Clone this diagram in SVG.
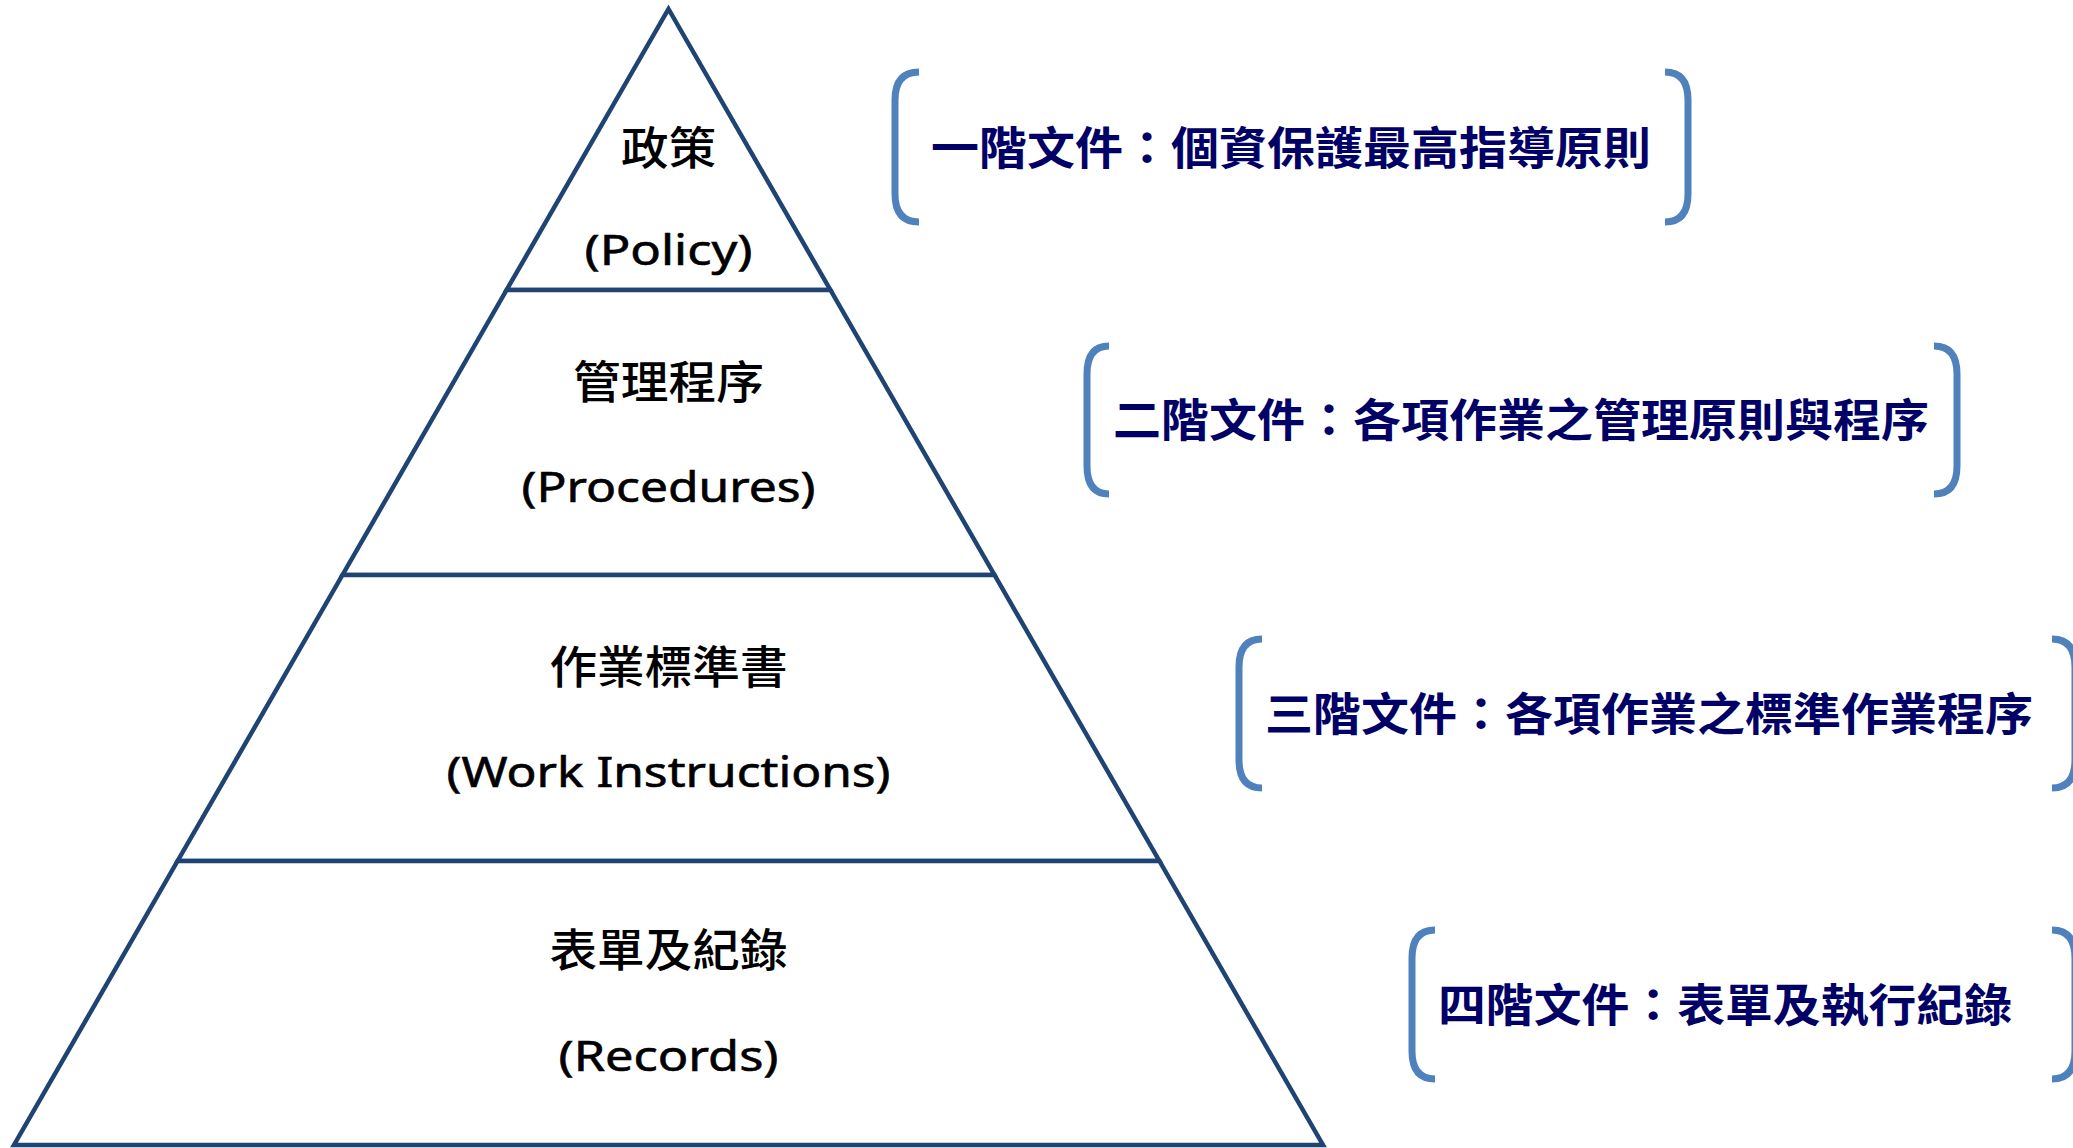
<svg xmlns="http://www.w3.org/2000/svg" width="2073" height="1148" viewBox="0 0 2073 1148">
<style>
.tier{fill:#FFFFFF;stroke:#1F4473;stroke-width:4.5;stroke-linejoin:miter}
.zh{font-family:"Noto Sans CJK TC","Noto Sans CJK SC",sans-serif;font-size:45px;font-weight:500;fill:#000000;text-anchor:middle}
.en{font-family:"Noto Sans","Open Sans","Liberation Sans",sans-serif;font-size:42px;fill:#000000;stroke:#000000;stroke-width:0.6;text-anchor:middle}
.lbl{font-family:"Noto Sans CJK TC","Noto Sans CJK SC",sans-serif;font-size:45px;font-weight:700;fill:#000066}
.br{fill:none;stroke:#4F81BD;stroke-width:7;stroke-linecap:butt}
</style>
<rect width="2073" height="1148" fill="#FFFFFF"/>
<g id="tier1">
<polygon class="tier" points="668.5,9 830.4,290 506.6,290"/>
<text class="zh" x="668.5" y="165" textLength="95" lengthAdjust="spacingAndGlyphs">政策</text>
<text class="en" x="668.5" y="265" textLength="168" lengthAdjust="spacingAndGlyphs">(Policy)</text>
</g>
<g id="tier2">
<polygon class="tier" points="506.6,290 830.4,290 994.5,575 342.5,575"/>
<text class="zh" x="668.5" y="399" textLength="191" lengthAdjust="spacingAndGlyphs">管理程序</text>
<text class="en" x="668.5" y="502" textLength="294" lengthAdjust="spacingAndGlyphs">(Procedures)</text>
</g>
<g id="tier3">
<polygon class="tier" points="342.5,575 994.5,575 1159.4,861 177.6,861"/>
<text class="zh" x="668.5" y="684" textLength="238" lengthAdjust="spacingAndGlyphs">作業標準書</text>
<text class="en" x="668.5" y="787" textLength="444" lengthAdjust="spacingAndGlyphs">(Work Instructions)</text>
</g>
<g id="tier4">
<polygon class="tier" points="177.6,861 1159.4,861 1323,1145 14,1145"/>
<text class="zh" x="668.5" y="967" textLength="238" lengthAdjust="spacingAndGlyphs">表單及紀錄</text>
<text class="en" x="668.5" y="1071" textLength="220" lengthAdjust="spacingAndGlyphs">(Records)</text>
</g>
<g id="label1">
<path class="br" d="M919,72 Q895,72 895,100 L895,194 Q895,222 919,222"/>
<path class="br" d="M1665,72 Q1688,72 1688,100 L1688,194 Q1688,222 1665,222"/>
<text class="lbl" x="931" y="165" textLength="720" lengthAdjust="spacingAndGlyphs">一階文件：個資保護最高指導原則</text>
</g>
<g id="label2">
<path class="br" d="M1109,346 Q1087,346 1087,374 L1087,466 Q1087,494 1109,494"/>
<path class="br" d="M1934,346 Q1957,346 1957,374 L1957,466 Q1957,494 1934,494"/>
<text class="lbl" x="1113" y="437" textLength="816" lengthAdjust="spacingAndGlyphs">二階文件：各項作業之管理原則與程序</text>
</g>
<g id="label3">
<path class="br" d="M1262,639 Q1239,639 1239,667 L1239,760 Q1239,788 1262,788"/>
<path class="br" d="M2052,639 Q2075,639 2075,667 L2075,760 Q2075,788 2052,788"/>
<text class="lbl" x="1265" y="731" textLength="768" lengthAdjust="spacingAndGlyphs">三階文件：各項作業之標準作業程序</text>
</g>
<g id="label4">
<path class="br" d="M1435,930 Q1412,930 1412,958 L1412,1051 Q1412,1079 1435,1079"/>
<path class="br" d="M2052,930 Q2075,930 2075,958 L2075,1051 Q2075,1079 2052,1079"/>
<text class="lbl" x="1438" y="1022" textLength="574" lengthAdjust="spacingAndGlyphs">四階文件：表單及執行紀錄</text>
</g>
<g id="connectors"></g>
</svg>
